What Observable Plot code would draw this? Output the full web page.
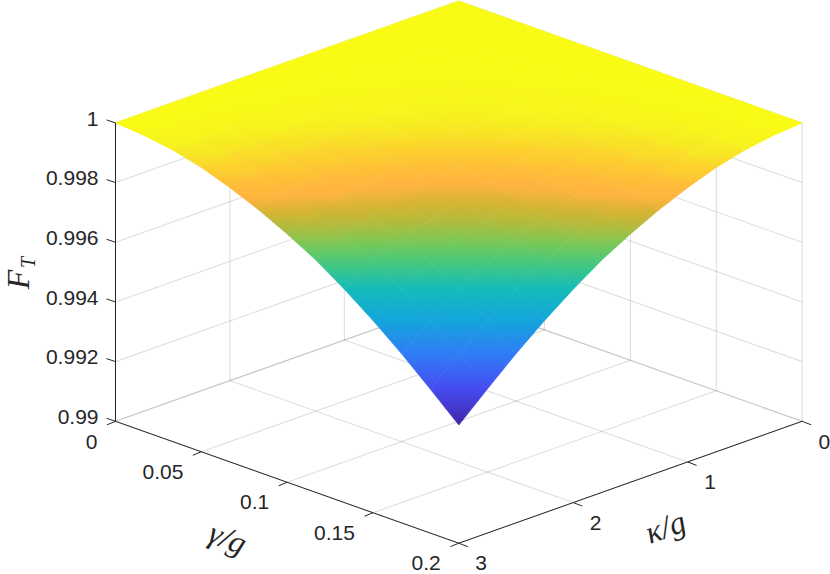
<!DOCTYPE html>
<html>
<head>
<meta charset="utf-8">
<script src="https://cdn.jsdelivr.net/npm/d3@7"></script>
<script src="https://cdn.jsdelivr.net/npm/@observablehq/plot@0.6"></script>
<style>html,body{margin:0;padding:0;background:#fff}svg{display:block}</style>
</head>
<body>
<div id="chart"></div>
<script>
// Axis values
const gammaGrid = [0, 0.2/12, 0.4/12, 0.05, 0.8/12, 1/12, 0.1, 1.4/12, 1.6/12, 0.15, 2/12, 2.2/12, 0.2];
const kappaGrid = [0, 0.25, 0.5, 0.75, 1, 1.25, 1.5, 1.75, 2, 2.25, 2.5, 2.75, 3];
const gammaTicks = [0, 0.05, 0.1, 0.15, 0.2];
const gammaTickLabels = ["0", "0.05", "0.1", "0.15", "0.2"];
const kappaTicks = [0, 1, 2, 3];
const kappaTickLabels = ["0", "1", "2", "3"];
const fidelityTicks = [0.99, 0.992, 0.994, 0.996, 0.998, 1];
const fidelityTickLabels = ["0.99", "0.992", "0.994", "0.996", "0.998", "1"];
// 1 - F_T in units of 1e-5: one row per gamma, one column per kappa
const lossRows = [
  [0,0,0,0,0,0,0,0,0,0,0,0,0],
  [0,0,0,1,1,1,1,2,3,4,5,6,8],
  [0,0,1,2,2,4,5,7,9,12,17,20,23],
  [0,1,2,3,5,7,10,13,17,24,31,37,47],
  [0,1,2,5,8,12,15,20,29,40,49,62,81],
  [0,1,4,7,12,17,23,32,46,60,77,95,121],
  [0,1,5,10,15,23,34,50,68,90,108,133,168],
  [0,2,7,13,20,32,50,74,101,120,145,175,221],
  [0,3,9,17,29,46,68,101,128,154,183,225,285],
  [0,4,12,24,40,60,90,120,154,188,228,285,356],
  [0,5,17,31,49,77,108,145,183,228,285,356,433],
  [0,6,20,37,62,95,133,175,225,285,356,433,517],
  [0,8,23,47,81,121,168,221,285,356,433,517,604]
];
const colorPositions = [0, 0.07, 0.144, 0.283, 0.411, 0.528, 0.622, 0.689, 0.744, 0.789, 0.833, 0.878, 0.917, 0.944, 0.972, 1];
const colorStops = ["rgb(62,38,168)","rgb(68,55,205)","rgb(70,75,240)","rgb(47,125,245)","rgb(20,165,220)","rgb(20,187,185)","rgb(70,200,125)","rgb(125,200,85)","rgb(180,187,60)","rgb(215,180,50)","rgb(255,180,65)","rgb(255,192,55)","rgb(252,210,45)","rgb(248,228,38)","rgb(247,245,28)","rgb(249,251,20)"];

const F = (i, j) => 1 - lossRows[i][j] * 1e-5;
const fMin = 1 - lossRows[12][12] * 1e-5;

// The 3-D box seen from the MATLAB view: data to picture coordinates
function project(gamma, kappa, f) {
  const a = gamma / 0.2, b = kappa / 3;
  return [458.3 + 343.3 * (a - b), 298.9 + 121.9 * (a + b) - (f - 0.99) * 29840];
}
const seg = (g1, k1, f1, g2, k2, f2) => {
  const [x1, y1] = project(g1, k1, f1), [x2, y2] = project(g2, k2, f2);
  return {x1, y1, x2, y2};
};

// Back walls and floor grid
const grid = [];
for (const g of gammaTicks) {
  grid.push(seg(g, 0, 0.99, g, 3, 0.99));
  grid.push(seg(g, 0, 0.99, g, 0, 1));
}
for (const k of kappaTicks) {
  grid.push(seg(0, k, 0.99, 0.2, k, 0.99));
  grid.push(seg(0, k, 0.99, 0, k, 1));
}
for (const f of fidelityTicks) {
  grid.push(seg(0, 3, f, 0, 0, f));
  grid.push(seg(0, 0, f, 0.2, 0, f));
}

const axisLines = [seg(0, 3, 0.99, 0, 3, 1), seg(0, 3, 0.99, 0.2, 3, 0.99), seg(0.2, 3, 0.99, 0.2, 0, 0.99)];

const gammaTickPts = gammaTicks.map((g, n) => { const [x, y] = project(g, 3, 0.99); return {x, y, label: gammaTickLabels[n]}; });
const kappaTickPts = kappaTicks.map((k, n) => { const [x, y] = project(0.2, k, 0.99); return {x, y, label: kappaTickLabels[n]}; });
const fTickPts = fidelityTicks.map((f, n) => { const [x, y] = project(0, 3, f); return {x, y, label: fidelityTickLabels[n]}; });
const tickSegs = (pts, dx, dy) => pts.map(p => ({x1: p.x, y1: p.y, x2: p.x + dx, y2: p.y + dy}));

// Surface cells
const color = Plot.scale({color: {type: "linear", domain: colorPositions.map(t => fMin + t * (1 - fMin)), range: colorStops}});
const cellPts = [];
const gradients = [];
for (let i = 0; i < 12; i++) {
  for (let j = 0; j < 12; j++) {
    const id = `cell-${i}-${j}`;
    const corners = [[i, j], [i + 1, j], [i + 1, j + 1], [i, j + 1]];
    for (const [p, q] of corners) {
      const [x, y] = project(gammaGrid[p], kappaGrid[q], F(p, q));
      cellPts.push({x, y, cell: id, order: i + j, paint: `url(#${id})`});
    }
    const yTop = project(gammaGrid[i], kappaGrid[j], F(i, j))[1];
    const yBot = project(gammaGrid[i + 1], kappaGrid[j + 1], F(i + 1, j + 1))[1];
    const yL = project(gammaGrid[i], kappaGrid[j + 1], F(i, j + 1))[1];
    const yR = project(gammaGrid[i + 1], kappaGrid[j], F(i + 1, j))[1];
    const yMid = Math.min(yBot - 0.01, Math.max(yTop + 0.01, (yL + yR) / 2));
    const fMid = (F(i, j + 1) + F(i + 1, j)) / 2;
    const stops = [];
    for (let n = 0; n <= 4; n++) {
      const u = n / 4;
      stops.push({y: yTop + u * (yMid - yTop), f: F(i, j) + u * (fMid - F(i, j))});
    }
    for (let n = 1; n <= 4; n++) {
      const u = n / 4;
      stops.push({y: yMid + u * (yBot - yMid), f: fMid + u * (F(i + 1, j + 1) - fMid)});
    }
    gradients.push({id, yTop, yBot, stops});
  }
}
cellPts.sort((a, b) => a.order - b.order);

const ink = "#262626";
const chart = Plot.plot({
  width: 830, height: 574, margin: 0,
  x: {domain: [0, 830], range: [0, 830], axis: null},
  y: {domain: [0, 574], range: [0, 574], axis: null},
  style: {background: "#fff", fontFamily: "'Liberation Sans', Arial, sans-serif"},
  marks: [
    Plot.link(grid, {x1: "x1", y1: "y1", x2: "x2", y2: "y2", stroke: ink, strokeOpacity: 0.15, strokeWidth: 1.1}),
    Plot.line(cellPts, {x: "x", y: "y", z: "cell", curve: "linear-closed",
      fill: {value: d => d.paint, scale: null}, stroke: {value: d => d.paint, scale: null}, strokeWidth: 0.7}),
    Plot.link(axisLines, {x1: "x1", y1: "y1", x2: "x2", y2: "y2", stroke: ink, strokeWidth: 1}),
    Plot.link(tickSegs(gammaTickPts, -8.5, 3.5), {x1: "x1", y1: "y1", x2: "x2", y2: "y2", stroke: ink, strokeWidth: 1}),
    Plot.link(tickSegs(kappaTickPts, 9, 3.5), {x1: "x1", y1: "y1", x2: "x2", y2: "y2", stroke: ink, strokeWidth: 1}),
    Plot.link(tickSegs(fTickPts, -9, -3), {x1: "x1", y1: "y1", x2: "x2", y2: "y2", stroke: ink, strokeWidth: 1}),
    Plot.text(fTickPts, {x: "x", y: "y", text: "label", textAnchor: "end", dx: -17, dy: -4, fontSize: 21, fill: ink}),
    Plot.text(gammaTickPts, {x: "x", y: "y", text: "label", textAnchor: "end", dx: -18, dy: 20.5, fontSize: 21, fill: ink}),
    Plot.text(kappaTickPts, {x: "x", y: "y", text: "label", textAnchor: "start", dx: 16.5, dy: 20.5, fontSize: 21, fill: ink}),
    Plot.text(["F"], {x: 18, y: 279, text: d => d, rotate: -90, fontSize: 32, fontStyle: "italic", fontFamily: "'Liberation Serif', serif", fill: ink}),
    Plot.text(["T"], {x: 28, y: 262, text: d => d, rotate: -90, fontSize: 20, fontStyle: "italic", fontFamily: "'Liberation Serif', serif", fill: ink}),
    Plot.text(["γ/g"], {x: 227, y: 538, text: d => d, rotate: 22, fontSize: 32, fontStyle: "italic", fontFamily: "'Liberation Serif', serif", fill: ink}),
    Plot.text(["κ/g"], {x: 665, y: 527, text: d => d, rotate: -20, fontSize: 32, fontStyle: "italic", fontFamily: "'Liberation Serif', serif", fill: ink})
  ]
});

// Vertical colour ramps of the surface cells, in picture coordinates
const defs = d3.select(chart).insert("defs", ":first-child");
for (const g of gradients) {
  const lg = defs.append("linearGradient").attr("id", g.id).attr("gradientUnits", "userSpaceOnUse")
    .attr("x1", 0).attr("x2", 0).attr("y1", g.yTop).attr("y2", g.yBot);
  for (const s of g.stops) {
    lg.append("stop").attr("offset", (s.y - g.yTop) / (g.yBot - g.yTop)).attr("stop-color", color.apply(s.f));
  }
}
document.getElementById("chart").append(chart);
</script>
</body>
</html>
